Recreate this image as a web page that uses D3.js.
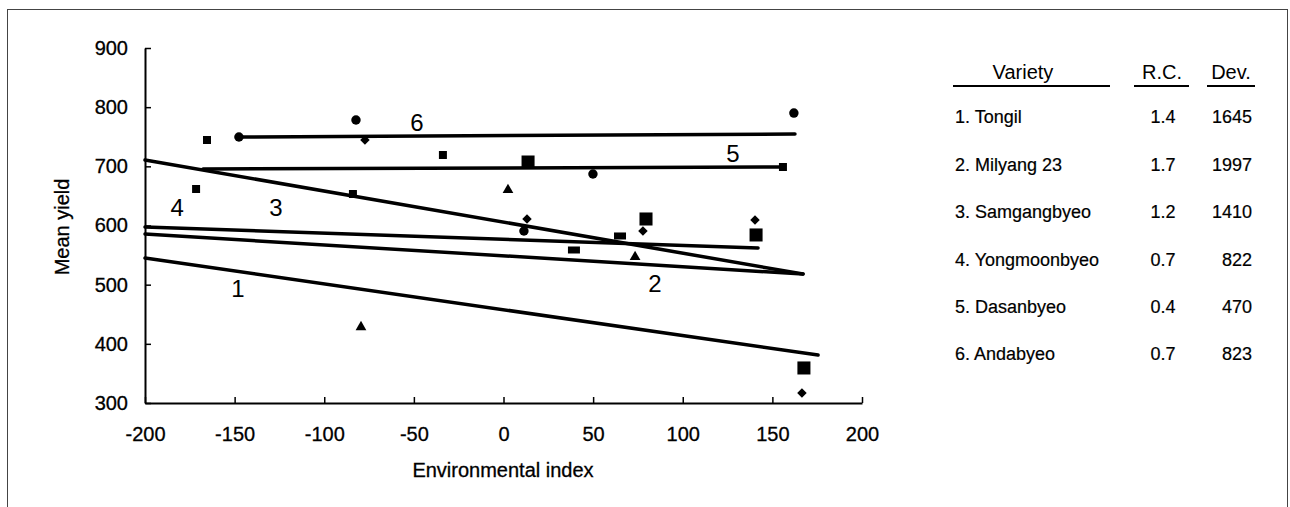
<!DOCTYPE html>
<html>
<head>
<meta charset="utf-8">
<script src="https://cdn.jsdelivr.net/npm/d3@7"></script>
<style>
    body { margin: 0; background: #fff; }
    svg { display: block; font-family: 'Liberation Sans', Arial, sans-serif; }
</style>
</head>
<body>
<div id="chart"></div>
<script>
// regression lines, [x, y] end points
const regLines = [
    { id: '1', from: [-200, 545], to: [175.5, 381] },
    { id: '2', from: [-200, 585.6], to: [167.1, 518] },
    { id: '3', from: [-200, 710.7], to: [167.1, 518] },
    { id: '4', from: [-200, 597.5], to: [142, 561.9] },
    { id: '5', from: [-167.6, 695.5], to: [155.9, 698.9] },
    { id: '6', from: [-147.6, 749.6], to: [162.6, 754.6] },
];
const lineLabels = [
    { id: '1', x: -148.1, y: 494.4 },
    { id: '2', x: 84.5, y: 502.8 },
    { id: '3', x: -126.9, y: 631.3 },
    { id: '4', x: -182.1, y: 631.3 },
    { id: '5', x: 128, y: 722.5 },
    { id: '6', x: -48.3, y: 774.9 },
];

// observed points by marker shape
const squares = [[-165.4, 744.5], [-171.5, 661.7], [-33.8, 719.2], [155.9, 698.9], [-84, 653.2]];
const bigSquares = [[13.7, 707.3], [79.5, 611], [140.9, 584], [167.6, 359.2]];
const circles = [[-147.6, 749.6], [-82.3, 778.3], [49.9, 687], [162, 790], [11.4, 590.7]];
const diamonds = [[-77.3, 744.5], [13.1, 611], [77.8, 590.7], [140.3, 609.3], [166.5, 316.9]];
const triangles = [[2.5, 660], [73.4, 546.8], [-79.5, 428.4]];
const flatRects = [[65, 582.3], [39.3, 558.6]];

const xTicks = [-200, -150, -100, -50, 0, 50, 100, 150, 200];
const yTicks = [300, 400, 500, 600, 700, 800, 900];

// table on the right
const varieties = ['1. Tongil', '2. Milyang 23', '3. Samgangbyeo', '4. Yongmoonbyeo', '5. Dasanbyeo', '6. Andabyeo'];
const rcValues = ['1.4', '1.7', '1.2', '0.7', '0.4', '0.7'];
const devValues = ['1645', '1997', '1410', '822', '470', '823'];

const width = 1290;
const height = 507;

const svg = d3.select('#chart')
    .append('svg')
    .attr('width', width)
    .attr('height', height);

// outer frame
svg.append('rect')
    .attr('x', 7.5).attr('y', 9.5)
    .attr('width', 1280).attr('height', 530)
    .attr('fill', 'none')
    .attr('stroke', '#444')
    .attr('stroke-width', 1);

const xScale = d3.scaleLinear().domain([-200, 200]).range([145, 862]);
const yScale = d3.scaleLinear().domain([300, 900]).range([403, 48]);

const xAxis = svg.append('g')
    .attr('transform', `translate(0, ${yScale(300)})`)
    .call(d3.axisBottom(xScale).tickValues(xTicks).tickFormat((d) => String(d))
        .tickSize(-6).tickSizeOuter(0).tickPadding(24));

const yAxis = svg.append('g')
    .attr('transform', `translate(${xScale(-200)}, 0)`)
    .call(d3.axisLeft(yScale).tickValues(yTicks).tickFormat((d) => String(d))
        .tickSize(-6).tickSizeOuter(0).tickPadding(17));

[xAxis, yAxis].forEach((g) => {
    g.select('.domain').attr('stroke', '#000').attr('stroke-width', 2);
    g.selectAll('line').attr('stroke', '#000').attr('stroke-width', 1.5);
    g.selectAll('text')
        .attr('fill', '#000')
        .attr('stroke', '#000')
        .attr('stroke-width', 0.3)
        .style('font-size', '20px')
        .style('font-family', "'Liberation Sans', Arial, sans-serif");
});

svg.append('text')
    .attr('transform', 'translate(69, 227) rotate(-90)')
    .attr('text-anchor', 'middle')
    .attr('stroke', '#000')
    .attr('stroke-width', 0.3)
    .style('font-size', '20px')
    .text('Mean yield');

svg.append('text')
    .attr('x', 503).attr('y', 477)
    .attr('text-anchor', 'middle')
    .attr('stroke', '#000')
    .attr('stroke-width', 0.3)
    .style('font-size', '20px')
    .text('Environmental index');

// regression lines
svg.append('g')
    .selectAll('line')
    .data(regLines)
    .join('line')
    .attr('x1', (d) => xScale(d.from[0]))
    .attr('y1', (d) => yScale(d.from[1]))
    .attr('x2', (d) => xScale(d.to[0]))
    .attr('y2', (d) => yScale(d.to[1]))
    .attr('stroke', '#000')
    .attr('stroke-width', 3.5)
    .attr('stroke-linecap', 'round');

svg.append('g')
    .selectAll('text')
    .data(lineLabels)
    .join('text')
    .attr('x', (d) => xScale(d.x))
    .attr('y', (d) => yScale(d.y))
    .attr('dy', '0.36em')
    .attr('text-anchor', 'middle')
    .style('font-size', '24px')
    .text((d) => d.id);

// markers
const markers = svg.append('g').attr('fill', '#000');
const addSymbols = (pts, type, size, rotate = 0) => {
    markers.selectAll(null)
        .data(pts)
        .join('path')
        .attr('transform', (d) => `translate(${xScale(d[0])}, ${yScale(d[1])}) rotate(${rotate})`)
        .attr('d', d3.symbol().type(type).size(size));
};
addSymbols(squares, d3.symbolSquare, 64);
addSymbols(bigSquares, d3.symbolSquare, 170);
addSymbols(circles, d3.symbolCircle, 70);
addSymbols(diamonds, d3.symbolSquare, 45, 45);
addSymbols(triangles, d3.symbolTriangle, 50);

markers.selectAll(null)
    .data(flatRects)
    .join('rect')
    .attr('x', (d) => xScale(d[0]) - 6)
    .attr('y', (d) => yScale(d[1]) - 3.5)
    .attr('width', 12)
    .attr('height', 7);

// variety table
const table = svg.append('g');
const headers = [
    { text: 'Variety', x: 1023, x1: 953, x2: 1110 },
    { text: 'R.C.', x: 1162, x1: 1134, x2: 1189 },
    { text: 'Dev.', x: 1231, x1: 1207, x2: 1255 },
];
table.selectAll('text.head')
    .data(headers)
    .join('text')
    .attr('class', 'head')
    .attr('x', (d) => d.x)
    .attr('y', 79)
    .attr('text-anchor', 'middle')
    .style('font-size', '20px')
    .text((d) => d.text);
table.selectAll('line')
    .data(headers)
    .join('line')
    .attr('x1', (d) => d.x1)
    .attr('x2', (d) => d.x2)
    .attr('y1', 86).attr('y2', 86)
    .attr('stroke', '#000')
    .attr('stroke-width', 2);

const rowY = d3.scalePoint().domain(d3.range(varieties.length)).range([117, 354]);
const rowStyle = (sel) => sel
    .attr('dy', '0.36em')
    .attr('stroke', '#000')
    .attr('stroke-width', 0.2)
    .style('font-size', '18px');

table.selectAll('text.name')
    .data(varieties)
    .join('text')
    .attr('class', 'name')
    .attr('x', 955)
    .attr('y', (d, i) => rowY(i))
    .call(rowStyle)
    .text((d) => d);
table.selectAll('text.rc')
    .data(rcValues)
    .join('text')
    .attr('class', 'rc')
    .attr('x', 1163)
    .attr('y', (d, i) => rowY(i))
    .attr('text-anchor', 'middle')
    .call(rowStyle)
    .text((d) => d);
table.selectAll('text.dev')
    .data(devValues)
    .join('text')
    .attr('class', 'dev')
    .attr('x', 1252)
    .attr('y', (d, i) => rowY(i))
    .attr('text-anchor', 'end')
    .call(rowStyle)
    .text((d) => d);
</script>
</body>
</html>
